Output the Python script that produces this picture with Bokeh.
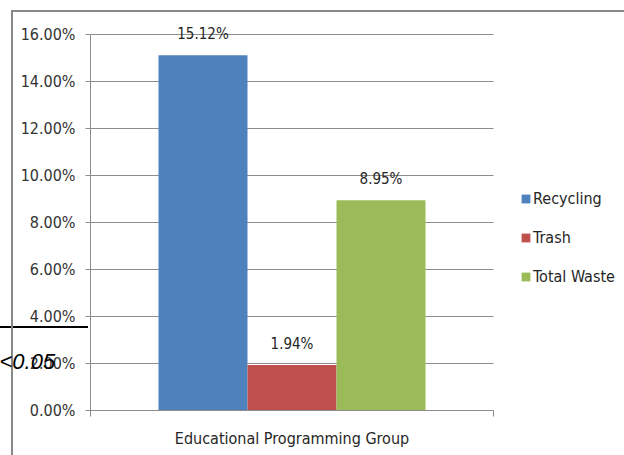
from bokeh.plotting import figure
from bokeh.models import (ColumnDataSource, Range1d, FixedTicker, BoxAnnotation,
                          NumeralTickFormatter, Legend, LegendItem, Label)
from bokeh.core.properties import value
from bokeh.embed import file_html
from bokeh.resources import INLINE

group = ["Educational Programming Group"]
series = ["Recycling", "Trash", "Total Waste"]
values = [0.1512, 0.0194, 0.0895]
colors = ["#4f81bd", "#c0504d", "#9bbb59"]
y_ticks = [0.0, 0.02, 0.04, 0.06, 0.08, 0.10, 0.12, 0.14, 0.16]
note = "<0.05"

FONT = "'Liberation Sans Narrow', 'DejaVu Sans Condensed', sans-serif"
TXT = "#262626"

W, H = 624, 455
y_max = 0.16
frame_left, frame_top, frame_bottom = 90, 26, 410
plot_px = 403                      # width of the plotting area for one group
px_per_y = 376 / y_max

p = figure(width=W, height=H,
           x_range=Range1d(0, (W - frame_left) / plot_px),
           y_range=Range1d(0, (frame_bottom - frame_top) / px_per_y),
           output_backend="svg", toolbar_location=None,
           min_border_left=frame_left, min_border_right=0,
           min_border_top=frame_top, min_border_bottom=H - frame_bottom)
p.outline_line_color = None
p.background_fill_color = "white"
p.border_fill_alpha = 0
# chart-area border (top/left) and the black rule, drawn behind the canvas
p.styles = {
    "background-image": "linear-gradient(#888888,#888888), linear-gradient(#888888,#888888), linear-gradient(#000000,#000000)",
    "background-position": "11px 10px, 11px 10px, 0px 326px",
    "background-size": "613px 2px, 2px 445px, 88px 2px",
    "background-repeat": "no-repeat",
}

bar_w = 89 / plot_px
offsets = [-bar_w, 0.0, bar_w]
centers = [i + 0.5 for i in range(len(group))]
items = []
for name, v, c, off in zip(series, values, colors, offsets):
    xs = [cx + off for cx in centers]
    src = ColumnDataSource(dict(x=xs, top=[v], lab=[f"{v*100:.2f}%"]))
    r = p.vbar(x="x", top="top", width=bar_w, source=src,
               fill_color=c, line_color=None)
    p.text(x="x", y="top", text="lab", source=src,
           text_align="center", text_baseline="alphabetic", y_offset=-21,
           text_font=value(FONT), text_font_size="15px", text_color=TXT)
    items.append(LegendItem(label=name, renderers=[r]))

# y axis
p.yaxis.ticker = FixedTicker(ticks=y_ticks)
p.yaxis.formatter = NumeralTickFormatter(format="0.00%")
p.yaxis.bounds = (0, y_max)
p.yaxis.minor_tick_line_color = None
p.yaxis.major_tick_out = 5
p.yaxis.major_tick_in = 0
p.yaxis.major_label_standoff = 10
p.yaxis.axis_line_color = "#8c8c8c"
p.yaxis.major_tick_line_color = "#8c8c8c"
p.yaxis.major_label_text_font = FONT
p.yaxis.major_label_text_font_size = "16px"
p.yaxis.major_label_text_color = "#333333"

# x axis: category label at the group centre, tick marks at group edges
edges = [float(i) for i in range(len(group) + 1)]
p.xaxis.ticker = FixedTicker(ticks=centers, minor_ticks=edges)
p.xaxis.major_label_overrides = {cx: g for cx, g in zip(centers, group)}
p.xaxis.bounds = (edges[0], edges[-1])
p.xaxis.major_tick_line_color = None
p.xaxis.minor_tick_line_color = "#8c8c8c"
p.xaxis.minor_tick_out = 6
p.xaxis.minor_tick_in = 0
p.xaxis.axis_line_color = "#8c8c8c"
p.xaxis.major_label_standoff = 12
p.xaxis.major_label_text_font = FONT
p.xaxis.major_label_text_font_size = "16px"
p.xaxis.major_label_text_color = TXT

p.xgrid.grid_line_color = None
g = p.ygrid[0]
g.ticker = FixedTicker(ticks=y_ticks)
g.grid_line_color = "#8c8c8c"
g.grid_line_width = 1
if "cross_bounds" in g.properties():
    g.cross_bounds = (edges[0], edges[-1])
else:
    p.add_layout(BoxAnnotation(left=edges[-1], fill_color="white", fill_alpha=1,
                               line_color=None, level="underlay"))

legend = Legend(items=items, location=(520 - frame_left, 124),
                padding=0, margin=0,
                border_line_color=None, background_fill_alpha=0,
                glyph_width=11, glyph_height=11, label_standoff=2,
                label_height=20, spacing=19,
                label_text_font=FONT, label_text_font_size="16px",
                label_text_color=TXT)
p.add_layout(legend, "center")

# italic note overlapping the y axis labels (in a side panel so it is not clipped)
p.add_layout(Label(x=-1, y=361, x_units="canvas", y_units="canvas",
                   text=note, text_font="'Liberation Sans', Arial, sans-serif",
                   text_font_style="italic", text_font_size="22px",
                   text_color="black", text_baseline="alphabetic"), "above")

open("out.html", "w").write(file_html(p, INLINE))
